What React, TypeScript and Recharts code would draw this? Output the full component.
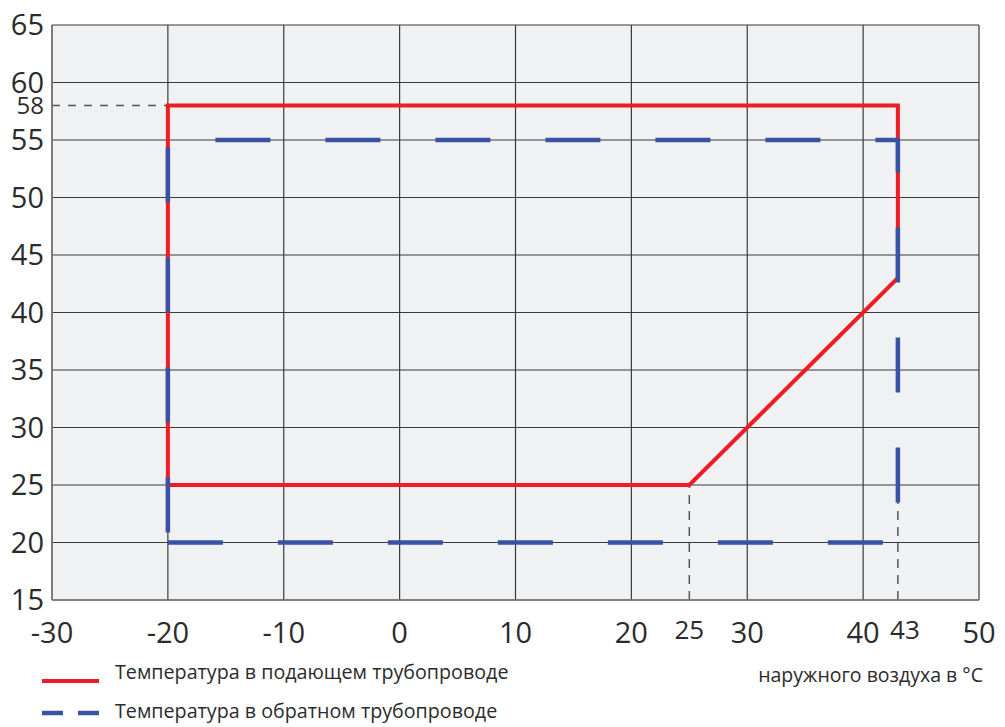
import React from "react";
import {
  ComposedChart,
  Line,
  XAxis,
  YAxis,
  CartesianGrid,
  ReferenceLine,
} from "recharts";

const xTicks = [-30, -20, -10, 0, 10, 20, 30, 40, 50];
const yTicks = [15, 20, 25, 30, 35, 40, 45, 50, 55, 60, 65];

const supplyName = "Температура в подающем трубопроводе";
const returnName = "Температура в обратном трубопроводе";
const axisTitle = "наружного воздуха в °С";

const supplyX = [-20, 25, 43, 43, -20, -20];
const supplyY = [25, 25, 43, 58, 58, 25];

const returnX = [-20, 43, 43, -20, -20];
const returnY = [20, 20, 55, 55, 20];

const markY = 58;
const markX1 = 25;
const markX2 = 43;

const supplyData = supplyX.map((x, i) => ({ x, y: supplyY[i] }));
const returnData = returnX.map((x, i) => ({ x, y: returnY[i] }));

const RED = "#ee1c25";
const BLUE = "#3953a4";
const FONT = "'Open Sans', 'Noto Sans', sans-serif";
const TEXT = "#2b2b2b";

const XTick = (props: any) => {
  const { x, y, payload } = props;
  return (
    <text x={x} y={y + 43} textAnchor="middle" fontSize={29} fill={TEXT} fontFamily={FONT}>
      {payload.value}
    </text>
  );
};

const YTick = (props: any) => {
  const { x, y, payload } = props;
  return (
    <text x={x - 8} y={y + 10} textAnchor="end" fontSize={29} fill={TEXT} fontFamily={FONT}>
      {payload.value}
    </text>
  );
};

export default function App() {
  return (
    <div
      style={{
        position: "absolute",
        left: 0,
        top: 0,
        width: 1005,
        height: 727,
        background: "#ffffff",
        fontFamily: FONT,
      }}
    >
      <ComposedChart
        width={1005}
        height={727}
        margin={{ top: 25, right: 26, left: 0, bottom: 0 }}
      >
        <CartesianGrid
          stroke="#3a3a3a"
          strokeWidth={1.2}
          fill="#f0f1f3"
          fillOpacity={1}
        />
        <XAxis
          type="number"
          dataKey="x"
          domain={[-30, 50]}
          ticks={xTicks}
          allowDataOverflow
          height={127}
          tickLine={false}
          tickSize={0}
          tickMargin={0}
          axisLine={{ stroke: "#7a7a7a", strokeWidth: 1.5 }}
          tick={<XTick />}
          interval={0}
          label={{
            content: (p: any) => {
              const vb = p.viewBox;
              return (
                <text
                  x={vb.x + vb.width + 4}
                  y={vb.y + 82}
                  textAnchor="end"
                  fontSize={19.5}
                  fill={TEXT}
                  fontFamily={FONT}
                >
                  {axisTitle}
                </text>
              );
            },
          }}
        />
        <YAxis
          type="number"
          dataKey="y"
          domain={[15, 65]}
          ticks={yTicks}
          allowDataOverflow
          width={52}
          tickLine={false}
          tickSize={0}
          tickMargin={0}
          axisLine={{ stroke: "#7a7a7a", strokeWidth: 1.5 }}
          tick={<YTick />}
          interval={0}
        />
        <ReferenceLine
          segment={[
            { x: -30, y: markY },
            { x: -20, y: markY },
          ]}
          stroke="#555"
          strokeWidth={1.5}
          strokeDasharray="8 8"
          label={{
            content: (p: any) => {
              const vb = p.viewBox;
              return (
                <text x={vb.x - 8} y={vb.y + 8} textAnchor="end" fontSize={24} fill={TEXT} fontFamily={FONT}>
                  {markY}
                </text>
              );
            },
          }}
        />
        <ReferenceLine
          segment={[
            { x: markX1, y: 15 },
            { x: markX1, y: 25 },
          ]}
          stroke="#555"
          strokeWidth={1.5}
          strokeDasharray="9 7"
          label={{
            content: (p: any) => {
              const vb = p.viewBox;
              return (
                <text x={vb.x} y={vb.y + vb.height + 39} textAnchor="middle" fontSize={26} fill={TEXT} fontFamily={FONT}>
                  {markX1}
                </text>
              );
            },
          }}
        />
        <ReferenceLine
          segment={[
            { x: markX2, y: 15 },
            { x: markX2, y: 25 },
          ]}
          stroke="#555"
          strokeWidth={1.5}
          strokeDasharray="9 7"
          label={{
            content: (p: any) => {
              const vb = p.viewBox;
              return (
                <text x={vb.x + 7} y={vb.y + vb.height + 39} textAnchor="middle" fontSize={26} fill={TEXT} fontFamily={FONT}>
                  {markX2}
                </text>
              );
            },
          }}
        />
        <Line
          data={supplyData}
          dataKey="y"
          name={supplyName}
          stroke={RED}
          strokeWidth={4}
          dot={false}
          activeDot={false}
          isAnimationActive={false}
          strokeLinejoin="miter"
          strokeLinecap="square"
          type="linear"
        />
        <Line
          data={returnData}
          dataKey="y"
          name={returnName}
          stroke={BLUE}
          strokeWidth={4.5}
          strokeDasharray="55 55"
          dot={false}
          activeDot={false}
          isAnimationActive={false}
          strokeLinejoin="miter"
          strokeLinecap="butt"
          type="linear"
        />
      </ComposedChart>
      <div style={{ position: "absolute", left: 0, top: 655, width: 600, height: 72 }}>
        <svg width={600} height={72} style={{ position: "absolute", left: 0, top: 0 }}>
          <line x1={42} x2={99} y1={26} y2={26} stroke={RED} strokeWidth={4} />
          <line x1={42} x2={63} y1={58} y2={58} stroke={BLUE} strokeWidth={4.5} />
          <line x1={78} x2={99} y1={58} y2={58} stroke={BLUE} strokeWidth={4.5} />
          <text x={115} y={24} fontSize={19.7} fill={TEXT} fontFamily={FONT}>
            {supplyName}
          </text>
          <text x={115} y={63} fontSize={19.7} fill={TEXT} fontFamily={FONT}>
            {returnName}
          </text>
        </svg>
      </div>
    </div>
  );
}
